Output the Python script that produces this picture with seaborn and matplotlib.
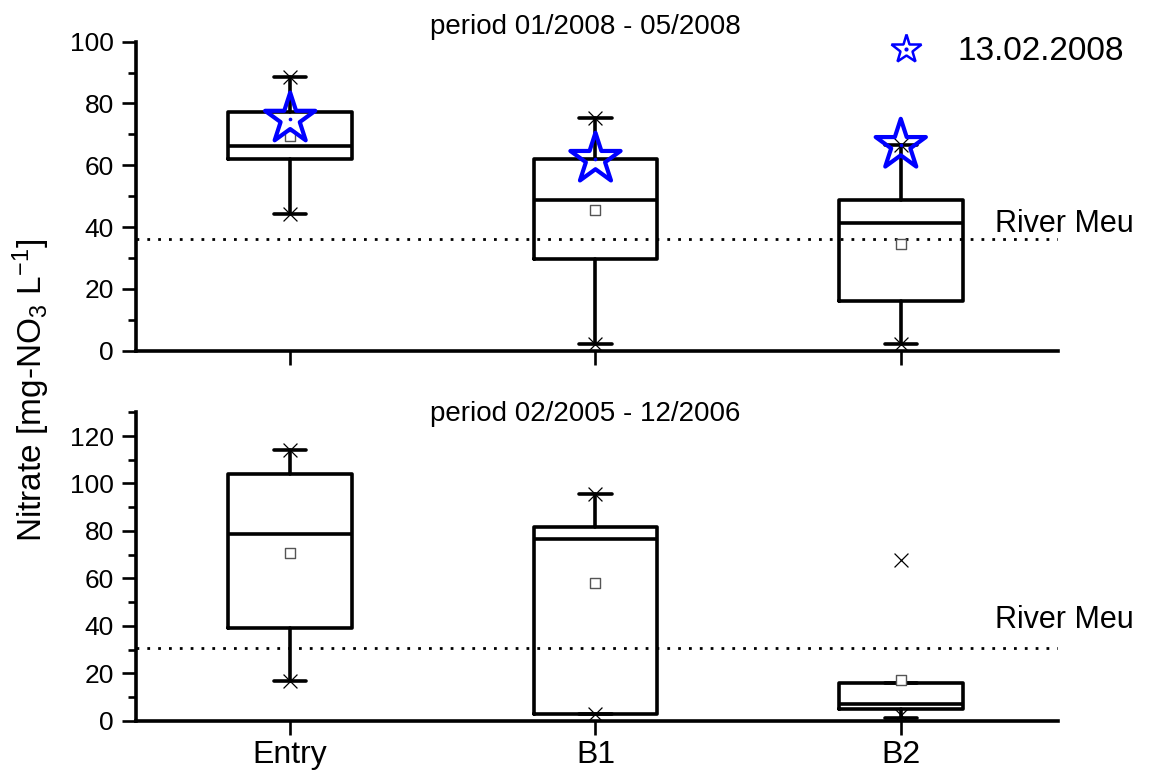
import numpy as np
import matplotlib
matplotlib.use("Agg")
import matplotlib.pyplot as plt
from matplotlib.ticker import MultipleLocator
from matplotlib.lines import Line2D
import seaborn as sns

sites = ["Entry", "B1", "B2"]

# period 01/2008 - 05/2008
p1_q1 = [62.0, 29.7, 16.0]
p1_med = [66.4, 48.8, 41.3]
p1_q3 = [77.1, 62.0, 48.8]
p1_whislo = [44.2, 2.2, 2.2]
p1_whishi = [88.6, 75.3, 66.5]
p1_mean = [69.5, 45.4, 34.6]
p1_min = [44.2, 2.2, 2.2]
p1_max = [88.6, 75.3, 66.5]
p1_event = [75.0, 62.0, 66.5]      # single sampling of 13.02.2008
p1_river = 36.0

# period 02/2005 - 12/2006
p2_q1 = [39.0, 2.9, 5.0]
p2_med = [78.9, 76.7, 6.9]
p2_q3 = [103.9, 81.8, 16.0]
p2_whislo = [16.9, 2.9, 1.0]
p2_whishi = [114.0, 95.7, 16.0]
p2_mean = [70.7, 57.9, 17.2]
p2_min = [16.9, 3.0, 2.5]
p2_max = [114.0, 95.7, 67.8]
p2_river = 30.8

event_label = "13.02.2008"
river_label = "River Meu"
titles = ["period 01/2008 - 05/2008", "period 02/2005 - 12/2006"]

sns.set_style("ticks")
plt.rcParams["font.family"] = ["Liberation Sans", "DejaVu Sans"]
plt.rcParams["mathtext.fontset"] = "custom"
plt.rcParams["mathtext.rm"] = "Liberation Sans"
plt.rcParams["mathtext.it"] = "Liberation Sans"
for key in ("text.color", "axes.labelcolor", "xtick.color", "ytick.color",
            "axes.edgecolor"):
    plt.rcParams[key] = "black"

LW = 2.6
W, H = 1150, 773
fig = plt.figure(figsize=(W / 100, H / 100), dpi=100)
ax1 = fig.add_axes([136 / W, 1 - 350.7 / H, 922 / W, 309 / H])
ax2 = fig.add_axes([136 / W, 1 - 720.7 / H, 922 / W, 308.4 / H])

pos = np.arange(len(sites))


def draw_period(ax, q1, med, q3, lo, hi, mean, mn, mx, river, label_y):
    stats = [dict(q1=a, med=b, q3=c, whislo=d, whishi=e, label=s)
             for a, b, c, d, e, s in zip(q1, med, q3, lo, hi, sites)]
    line = dict(color="black", linewidth=LW)
    ax.bxp(stats, positions=pos, widths=0.405, capwidths=0.105,
           showfliers=False, showmeans=False, manage_ticks=False,
           boxprops=line, medianprops=line, whiskerprops=line, capprops=line)
    sns.scatterplot(x=pos, y=mean, marker="s", s=44, color="white",
                    edgecolor="#555555", linewidth=1.0, ax=ax, zorder=4)
    sns.scatterplot(x=np.r_[pos, pos], y=np.r_[mn, mx], marker="x", s=100,
                    color="black", linewidth=0.9, ax=ax, zorder=4)
    ax.axhline(river, color="black", lw=2.0, ls=(0, (1, 2.9)), zorder=1)
    ax.text(2.308, label_y, river_label, fontsize=22, va="baseline",
            ha="left", clip_on=False)


draw_period(ax1, p1_q1, p1_med, p1_q3, p1_whislo, p1_whishi,
            p1_mean, p1_min, p1_max, p1_river, 38.4)
draw_period(ax2, p2_q1, p2_med, p2_q3, p2_whislo, p2_whishi,
            p2_mean, p2_min, p2_max, p2_river, 39.0)

# sampling of 13.02.2008 drawn as open stars with a centre dot
sns.scatterplot(x=pos, y=p1_event, marker="*", s=38 ** 2,
                facecolor="none", edgecolor="#0000ff", linewidth=3.0,
                ax=ax1, zorder=6)
sns.scatterplot(x=pos, y=p1_event, marker="o", s=7, color="#0000ff",
                edgecolor="#0000ff", linewidth=0, ax=ax1, zorder=6)

for ax in (ax1, ax2):
    ax.set_xlim(-0.505, 2.515)
    ax.set_xticks(pos)
    ax.yaxis.set_major_locator(MultipleLocator(20))
    ax.yaxis.set_minor_locator(MultipleLocator(10))
    ax.tick_params(axis="both", which="major", direction="out", length=10,
                   width=1.9, labelsize=19, color="black", pad=6)
    ax.tick_params(axis="y", which="minor", direction="out", length=5.5,
                   width=1.9, color="black")
    for side in ("left", "bottom"):
        ax.spines[side].set_linewidth(LW)
        ax.spines[side].set_color("black")
    ax.set_xlabel("")
    ax.set_ylabel("")
    ax.grid(False)
sns.despine(fig=fig)

ax1.set_ylim(0, 100)
ax1.set_xticklabels([])
ax2.set_ylim(0, 130)
ax2.set_xticklabels(sites, fontsize=23)
ax2.tick_params(axis="x", pad=4)

fig.text(585 / W, 1 - 27 / H, titles[0], fontsize=20, ha="center", va="center")
fig.text(585 / W, 1 - 414 / H, titles[1], fontsize=20, ha="center", va="center")

fig.text(31 / W, 1 - 390 / H, r"Nitrate [mg-NO$_3$ L$^{-1}$]", fontsize=24,
         rotation=90, ha="center", va="center")

star_h = Line2D([], [], ls="none", marker="*", ms=22, mfc="none",
                mec="#0000ff", mew=1.8)
dot_h = Line2D([], [], ls="none", marker="o", ms=2, mfc="#0000ff",
               mec="#0000ff")
ax1.legend([(star_h, dot_h)], [event_label], loc="center left",
           bbox_to_anchor=(881 / W, 1 - 52 / H), bbox_transform=fig.transFigure,
           frameon=False, borderaxespad=0, borderpad=0, handlelength=1.5,
           handletextpad=0.78, fontsize=24)

fig.savefig("out.png", dpi=100, facecolor="white")
